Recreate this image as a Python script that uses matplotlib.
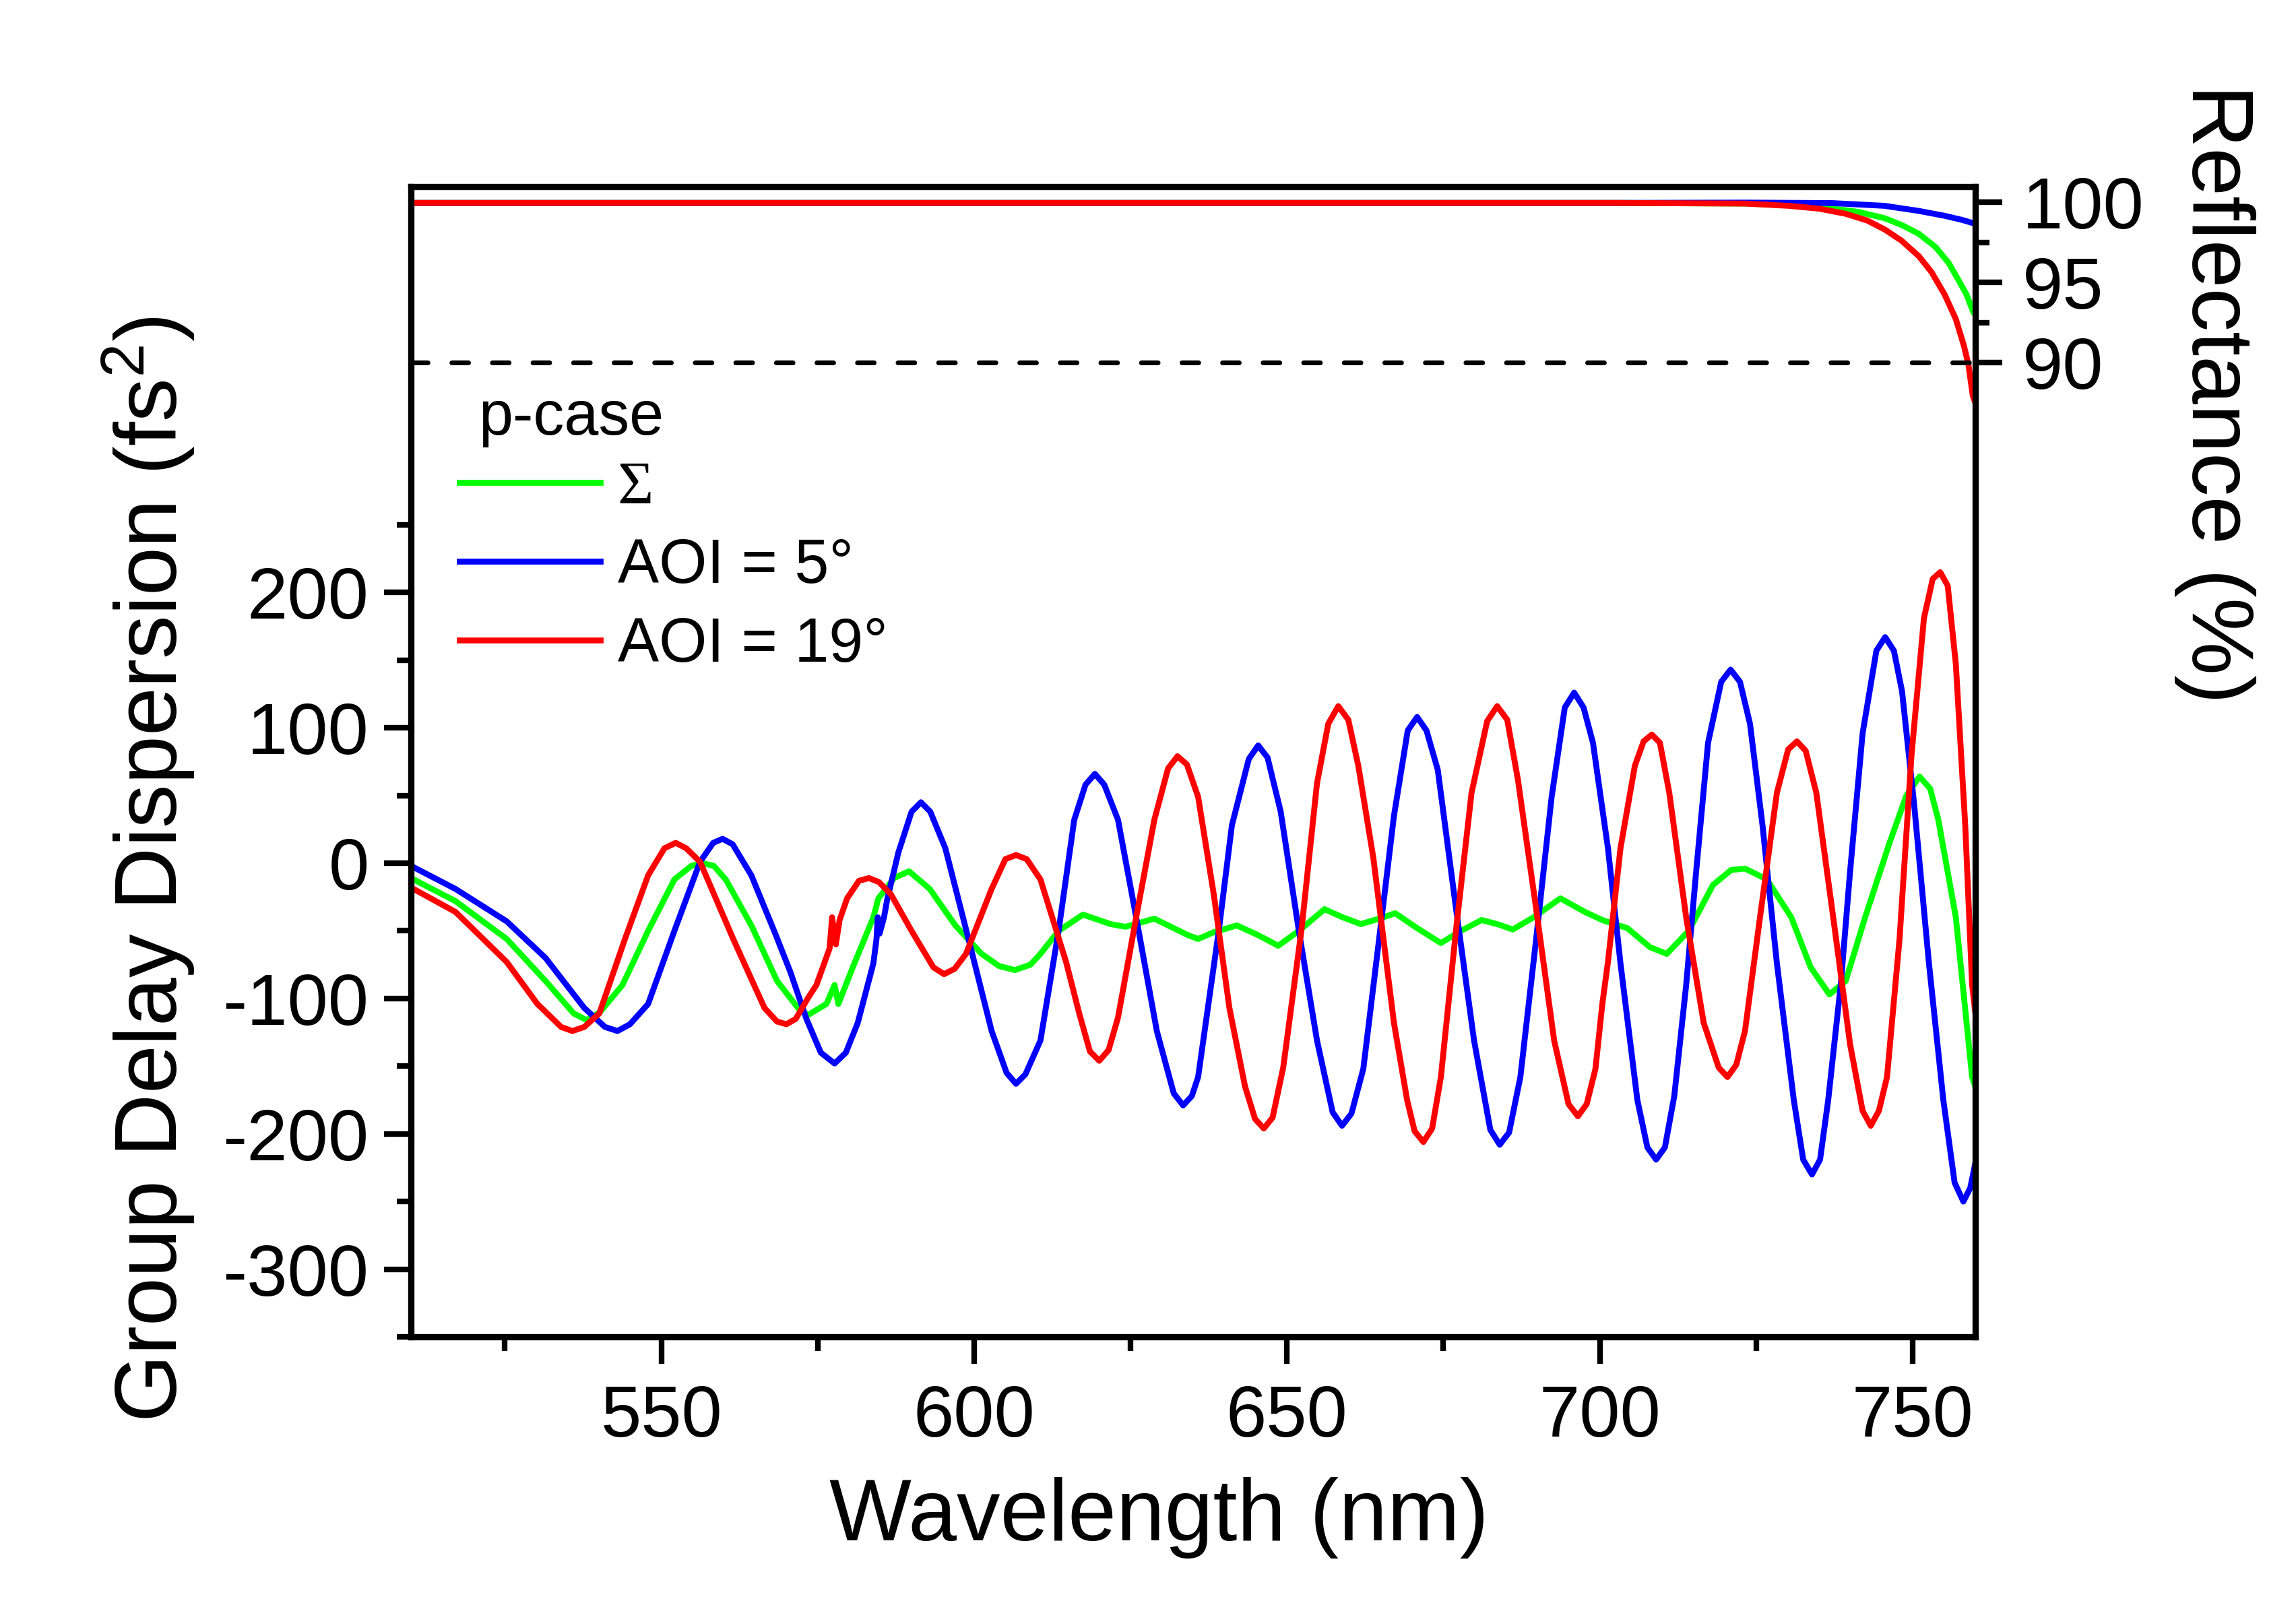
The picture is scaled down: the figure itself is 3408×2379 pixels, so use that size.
import matplotlib
matplotlib.use("Agg")
import matplotlib.pyplot as plt
from matplotlib.ticker import FixedLocator

plt.rcParams["font.family"] = ["Liberation Sans", "DejaVu Sans"]
plt.rcParams["axes.unicode_minus"] = False
plt.rcParams["mathtext.fontset"] = "custom"
plt.rcParams["mathtext.rm"] = "Liberation Sans"
plt.rcParams["mathtext.it"] = "Liberation Sans:italic"

# GDD (fs^2)
wl_5 = [510, 517.1, 525.3, 531.5, 537.7, 541.0, 543.0, 545.0, 547.9, 552.1, 556.2, 558.3,
        559.8, 561.4, 564.4, 568.3, 570.6, 573.2, 575.5, 577.7, 579.5, 581.4, 583.9, 584.4,
        584.6, 584.9, 585.6, 586.1, 587.9, 590.0, 591.5, 593.0, 595.4, 599.1, 602.8, 605.2,
        606.7, 608.2, 610.6, 613.5, 616.0, 617.8, 619.3, 620.8, 623.0, 625.9, 629.2, 631.9,
        633.4, 634.8, 635.8, 639.1, 641.2, 643.9, 645.4, 646.9, 649.0, 651.9, 654.8, 657.3,
        658.8, 660.3, 662.2, 664.7, 667.1, 669.3, 670.8, 672.3, 674.1, 677.0, 679.9, 682.5,
        684.0, 685.5, 687.3, 689.8, 692.3, 694.4, 695.9, 697.4, 698.9, 701.3, 703.3, 706.0,
        707.6, 709.0, 710.4, 711.9, 713.8, 715.4, 717.3, 719.4, 720.9, 722.4, 724.0, 726.0,
        728.3, 731.0, 732.5, 733.9, 735.2, 736.5, 738.5, 740.0, 742.0, 744.2, 745.6, 747.0,
        748.3, 750.2, 752.6, 754.9, 756.7, 758.1, 759.2, 760]
gdd_5 = [-2, -19, -43, -70, -107, -121, -124, -119, -104, -50, 1, 15,
         18, 14, -9, -53, -80, -115, -140, -148, -140, -118, -74, -56,
         -40, -52, -40, -27, 8, 38, 45, 38, 11, -56, -124, -155,
         -163, -156, -131, -50, 32, 58, 66, 58, 32, -40, -124, -170,
         -179, -172, -158, -50, 28, 77, 87, 78, 38, -50, -131, -184,
         -194, -185, -152, -57, 35, 98, 108, 98, 69, -33, -131, -197,
         -208, -199, -158, -57, 49, 115, 126, 115, 89, 11, -74, -175,
         -210, -219, -210, -172, -90, -6, 89, 134, 143, 134, 103, 28,
         -74, -175, -219, -230, -219, -175, -90, -6, 96, 157, 167, 157,
         127, 45, -74, -175, -236, -250, -240, -222]

wl_19 = [510, 517.1, 525.3, 530.2, 534.0, 535.8, 537.7, 540.1, 544.2, 547.9, 550.5, 552.3,
         554.0, 556.2, 561.5, 566.5, 568.5, 570.0, 571.5, 573.4, 574.8, 576.9, 577.3, 577.9,
         578.5, 579.7, 581.6, 583.2, 584.8, 586.7, 590.0, 593.5, 595.2, 596.9, 598.7, 602.8,
         605.0, 606.7, 608.4, 610.6, 614.7, 616.8, 618.5, 620.0, 621.5, 623.0, 625.9, 628.8,
         631.0, 632.5, 634.0, 635.8, 638.3, 640.8, 643.3, 644.9, 646.3, 647.7, 649.4, 652.3,
         654.8, 656.6, 658.2, 659.8, 661.4, 663.8, 667.1, 669.2, 670.4, 671.8, 673.2, 674.6,
         677.0, 679.5, 682.0, 683.6, 685.2, 686.9, 689.8, 692.7, 695.0, 696.5, 697.9, 699.3,
         700.4, 701.3, 703.3, 705.6, 707.0, 708.3, 709.6, 711.1, 713.8, 716.6, 719.0, 720.4,
         721.8, 723.2, 725.6, 728.3, 730.1, 731.5, 732.9, 734.6, 737.3, 740.0, 742.0, 743.3,
         744.6, 745.9, 747.9, 749.8, 751.8, 753.2, 754.4, 755.6, 756.9, 758.4, 759.5, 760]
gdd_19 = [-18, -36, -73, -104, -121, -124, -121, -111, -56, -9, 11, 15,
          11, 1, -56, -107, -117, -119, -115, -100, -90, -63, -40, -60,
          -42, -26, -13, -11, -14, -23, -50, -77, -82, -78, -67, -19,
          3, 6, 3, -12, -73, -111, -139, -146, -138, -114, -40, 32,
          70, 79, 73, 49, -23, -107, -165, -189, -196, -188, -151, -50,
          59, 103, 116, 106, 72, 4, -118, -175, -198, -206, -196, -158,
          -50, 52, 105, 116, 106, 62, -33, -131, -178, -187, -178, -152,
          -104, -73, 11, 72, 90, 95, 89, 52, -40, -118, -151, -158,
          -149, -124, -40, 52, 84, 90, 83, 52, -40, -134, -183, -194,
          -183, -158, -56, 79, 181, 210, 215, 205, 147, 28, -90, -110]

wl_sum = [510, 517.1, 525.3, 531.5, 536.0, 538.1, 540.2, 543.8, 547.9, 552.1, 554.8, 556.6,
          558.4, 560.3, 564.4, 568.5, 572.2, 573.5, 576.4, 577.7, 578.3, 580.6, 583.9, 584.7,
          585.9, 587.2, 589.6, 592.9, 597.0, 601.2, 604.0, 606.5, 609.0, 610.6, 613.5, 617.4,
          621.8, 624.2, 628.8, 634.1, 635.8, 638.3, 642.0, 645.3, 648.6, 651.9, 656.0, 658.9,
          661.8, 664.7, 667.3, 670.8, 674.6, 677.8, 681.1, 683.6, 686.1, 689.4, 693.7, 697.6,
          700.4, 701.7, 704.4, 708.0, 710.7, 714.2, 718.1, 721.0, 723.2, 726.7, 730.6, 733.7,
          736.7, 739.3, 742.4, 746.3, 749.0, 751.1, 752.8, 754.1, 756.9, 759.5, 760]
gdd_sum = [-11, -28, -56, -87, -111, -116, -110, -90, -50, -12, -2, 0,
           -2, -12, -46, -87, -109, -112, -104, -90, -104, -77, -40, -26,
           -19, -11, -6, -19, -46, -67, -76, -79, -75, -67, -50, -38,
           -45, -47, -41, -53, -56, -51, -46, -53, -61, -50, -34, -40,
           -45, -41, -37, -48, -59, -50, -42, -45, -49, -40, -26, -36,
           -42, -44, -48, -62, -67, -50, -16, -5, -4, -12, -40, -77,
           -97, -87, -40, 15, 50, 64, 55, 32, -40, -158, -165]

# Reflectance (%)
rwl_5 = [510, 702.6, 723.3, 737.1, 745.5, 751.0, 755.2, 758.0, 760]
refl_5 = [99.97, 99.97, 99.99, 99.96, 99.79, 99.47, 99.16, 98.9, 98.67]
rwl_19 = [510, 702.6, 723.3, 730.2, 735.1, 739.2, 742.7, 745.5, 748.2, 751.0, 753.0, 755.1,
          756.9, 758.2, 758.9, 759.6, 760]
refl_19 = [99.97, 99.97, 99.93, 99.79, 99.61, 99.3, 98.88, 98.32, 97.62, 96.64, 95.66, 94.26,
           92.72, 91.04, 89.9, 87.95, 87.5]
rwl_sum = [510, 702.6, 723.3, 730.2, 735.8, 741.3, 745.5, 748.2, 751.0, 753.7, 755.8, 757.2,
           758.6, 759.7, 760]
refl_sum = [99.97, 99.97, 99.93, 99.82, 99.69, 99.41, 99.02, 98.6, 98.04, 97.2, 96.2, 95.24,
            94.26, 93.14, 93.0]

GREEN, BLUE, RED = "#00ff00", "#0000ff", "#ff0000"
LW = 2.1

fig = plt.figure(figsize=(11.36, 7.93), dpi=300)
ax = fig.add_axes([0.179, 0.166, 0.6813, 0.7177])

ax.plot(wl_sum, gdd_sum, color=GREEN, lw=LW, label="Σ", solid_joinstyle="round")
ax.plot(wl_5, gdd_5, color=BLUE, lw=LW, label="AOI = 5°", solid_joinstyle="round")
ax.plot(wl_19, gdd_19, color=RED, lw=LW, label="AOI = 19°", solid_joinstyle="round")
ax.set_xlim(510, 760)
ax.set_ylim(-350, 500)

ax.xaxis.set_major_locator(FixedLocator([550, 600, 650, 700, 750]))
ax.xaxis.set_minor_locator(FixedLocator([525, 575, 625, 675, 725]))
ax.yaxis.set_major_locator(FixedLocator([-300, -200, -100, 0, 100, 200]))
ax.yaxis.set_minor_locator(FixedLocator([-350, -250, -150, -50, 50, 150, 250]))
ax.tick_params(axis="both", which="both", direction="out", width=2, top=False, right=False)
ax.tick_params(which="major", length=9.5, labelsize=26)
ax.tick_params(which="minor", length=5)
ax.tick_params(axis="y", pad=5.5)
ax.tick_params(axis="x", pad=7.2)

ax.set_xlabel("Wavelength (nm)", fontsize=31, va="center")
ax.xaxis.set_label_coords(0.478, -0.157)
ax.set_ylabel("Group Delay Dispersion (fs$^2$)", fontsize=31, va="center")
ax.yaxis.set_label_coords(-0.168, 0.4066)

ax2 = ax.twinx()
ax2.plot(rwl_sum, refl_sum, color=GREEN, lw=LW)
ax2.plot(rwl_5, refl_5, color=BLUE, lw=LW)
ax2.plot(rwl_19, refl_19, color=RED, lw=LW)
ax2.axhline(90, color="black", lw=1.7, ls=(0, (3.5, 5)), dash_capstyle="round")
ax2.set_ylim(29.2, 101)
ax2.yaxis.set_major_locator(FixedLocator([90, 95, 100]))
ax2.yaxis.set_minor_locator(FixedLocator([92.5, 97.5]))
ax2.tick_params(axis="y", which="both", direction="out", width=2, pad=7.2)
ax2.tick_params(axis="y", which="major", length=9.5, labelsize=26)
ax2.tick_params(axis="y", which="minor", length=5)
ax2.set_ylabel("Reflectance (%)", fontsize=31, rotation=270, va="center")
ax2.yaxis.set_label_coords(1.153, 0.8196)

for a in (ax, ax2):
    for s in a.spines.values():
        s.set_linewidth(2.2)

leg = ax.legend(loc="upper left", bbox_to_anchor=(0.031, 0.7616), frameon=False,
                fontsize=22, handlelength=2.28, handletextpad=0.28, labelspacing=0.34,
                borderpad=0, borderaxespad=0)
leg.get_texts()[0].set_family(["Liberation Serif", "DejaVu Serif"])
ax.text(0.0431, 0.7844, "p-case", transform=ax.transAxes, fontsize=22,
        ha="left", va="baseline")

fig.savefig("out.png", dpi=300)
